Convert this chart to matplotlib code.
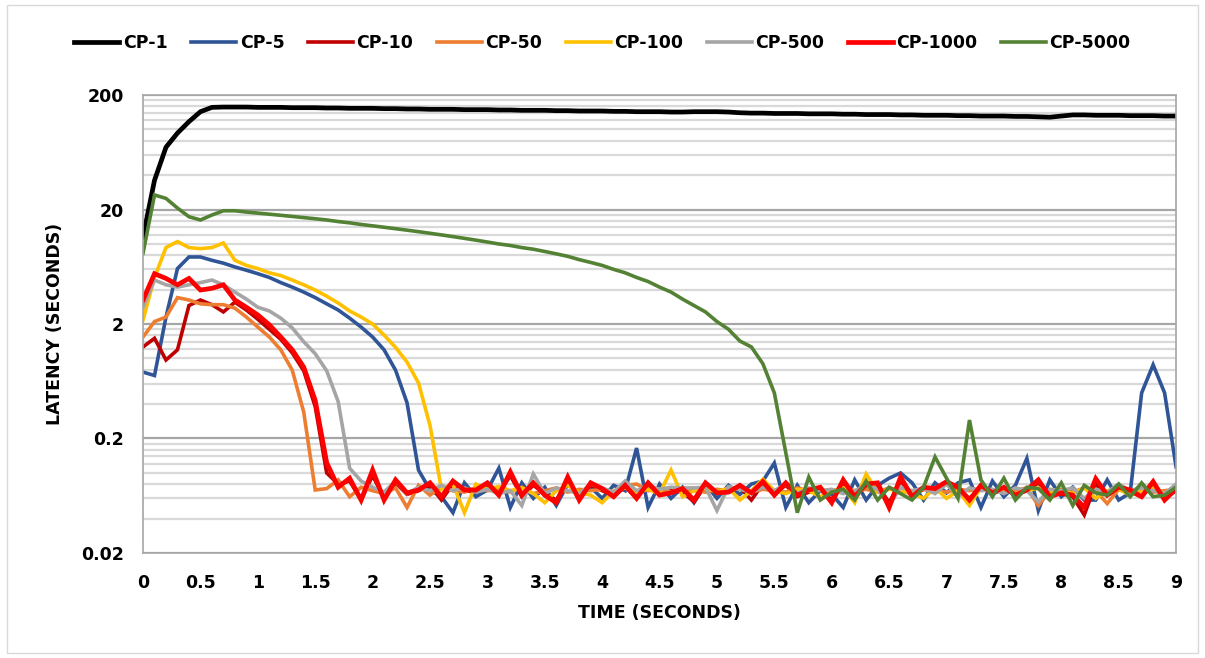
import matplotlib
matplotlib.use("Agg")
import matplotlib.pyplot as plt
from matplotlib.patches import Rectangle
from matplotlib.ticker import FixedLocator, NullFormatter
import numpy as np

plt.rcParams['font.family'] = ['Liberation Sans Narrow', 'DejaVu Sans']
plt.rcParams['font.weight'] = 'bold'

time = [round(i * 0.1, 1) for i in range(91)]

cp1 = [11.5, 36, 70, 93, 117, 143, 156, 157, 157, 157,
       156, 156, 156, 155, 155, 155, 154, 154, 153, 153,
       153, 152, 152, 151, 151, 150, 150, 150, 149, 149,
       149, 148, 148, 147, 147, 147, 146, 146, 145, 145,
       145, 144, 144, 143, 143, 143, 142, 142, 143, 143,
       143, 142, 140, 139, 139, 138, 138, 138, 137, 137,
       137, 136, 136, 135, 135, 135, 134, 134, 133, 133,
       133, 132, 132, 131, 131, 131, 130, 130, 129, 128,
       131, 134, 134, 133, 133, 133, 132, 132, 132, 131,
       131]

cp5 = [0.76, 0.71, 2.3, 6.1, 7.7, 7.7, 7.2, 6.8, 6.3, 5.9,
       5.5, 5.1, 4.6, 4.2, 3.8, 3.4, 3.0, 2.65, 2.25, 1.88,
       1.54, 1.19, 0.79, 0.41, 0.106, 0.071, 0.062, 0.045, 0.082, 0.062,
       0.071, 0.11, 0.05, 0.082, 0.06, 0.075, 0.052, 0.08, 0.064, 0.075,
       0.06, 0.078, 0.07, 0.165, 0.05, 0.08, 0.06, 0.075, 0.055, 0.08,
       0.06, 0.078, 0.065, 0.08, 0.085, 0.122, 0.05, 0.078, 0.055, 0.07,
       0.065, 0.05, 0.087, 0.058, 0.078, 0.09, 0.1, 0.082, 0.058, 0.082,
       0.067, 0.082, 0.087, 0.05, 0.085, 0.062, 0.078, 0.134, 0.047, 0.087,
       0.062, 0.075, 0.058, 0.058, 0.087, 0.058, 0.067, 0.5, 0.88, 0.5,
       0.113]

cp10 = [1.26, 1.5, 0.97, 1.19, 2.9, 3.24, 2.95, 2.55, 3.1, 2.65,
        2.2, 1.8, 1.47, 1.12, 0.78, 0.38, 0.1, 0.08, 0.085, 0.058,
        0.095, 0.06, 0.082, 0.065, 0.07, 0.078, 0.058, 0.08, 0.07, 0.068,
        0.08, 0.066, 0.095, 0.062, 0.078, 0.066, 0.058, 0.085, 0.06, 0.078,
        0.07, 0.064, 0.075, 0.062, 0.078, 0.066, 0.07, 0.068, 0.056, 0.078,
        0.068, 0.07, 0.075, 0.058, 0.08, 0.066, 0.078, 0.062, 0.068, 0.072,
        0.058, 0.082, 0.064, 0.076, 0.078, 0.055, 0.085, 0.064, 0.072, 0.07,
        0.08, 0.072, 0.06, 0.075, 0.066, 0.072, 0.066, 0.07, 0.082, 0.064,
        0.066, 0.062, 0.043, 0.08, 0.064, 0.072, 0.068, 0.062, 0.08, 0.06,
        0.07]

cp50 = [1.54, 2.1, 2.3, 3.4, 3.24, 3.0, 2.95, 2.95, 2.75, 2.3,
        1.88, 1.54, 1.19, 0.79, 0.34, 0.071, 0.073, 0.087, 0.062, 0.075,
        0.07, 0.066, 0.074, 0.05, 0.078, 0.064, 0.076, 0.07, 0.068, 0.074,
        0.07, 0.072, 0.068, 0.075, 0.066, 0.07, 0.074, 0.068, 0.072, 0.07,
        0.072, 0.068, 0.078, 0.08, 0.07, 0.072, 0.068, 0.074, 0.07, 0.068,
        0.072, 0.07, 0.074, 0.068, 0.072, 0.07, 0.068, 0.074, 0.07, 0.072,
        0.068, 0.074, 0.07, 0.072, 0.068, 0.074, 0.07, 0.066, 0.072, 0.07,
        0.068, 0.072, 0.07, 0.074, 0.068, 0.072, 0.07, 0.074, 0.052, 0.07,
        0.072, 0.068, 0.074, 0.07, 0.054, 0.072, 0.07, 0.074, 0.068, 0.07,
        0.072]

cp100 = [2.17, 5.1, 9.3, 10.5, 9.3, 9.1, 9.3, 10.2, 7.2, 6.5,
         6.1, 5.6, 5.3, 4.84, 4.4, 3.96, 3.5, 3.05, 2.6, 2.3,
         2.0, 1.6, 1.25, 0.93, 0.61, 0.26, 0.072, 0.08, 0.045, 0.08,
         0.072, 0.076, 0.07, 0.074, 0.066, 0.055, 0.07, 0.078, 0.068, 0.064,
         0.055, 0.07, 0.074, 0.068, 0.072, 0.066, 0.106, 0.062, 0.07, 0.074,
         0.068, 0.074, 0.058, 0.07, 0.088, 0.07, 0.066, 0.072, 0.07, 0.062,
         0.07, 0.074, 0.055, 0.098, 0.068, 0.072, 0.07, 0.066, 0.06, 0.074,
         0.06, 0.07, 0.052, 0.075, 0.07, 0.072, 0.066, 0.07, 0.074, 0.068,
         0.07, 0.066, 0.074, 0.06, 0.07, 0.072, 0.064, 0.07, 0.074, 0.066,
         0.07]

cp500 = [2.8, 4.84, 4.4, 4.2, 4.4, 4.6, 4.84, 4.4, 3.8, 3.3,
         2.8, 2.6, 2.25, 1.85, 1.4, 1.1, 0.78, 0.42, 0.11, 0.085,
         0.075, 0.068, 0.085, 0.066, 0.075, 0.07, 0.078, 0.07, 0.074, 0.068,
         0.072, 0.066, 0.07, 0.052, 0.098, 0.066, 0.074, 0.07, 0.066, 0.08,
         0.074, 0.068, 0.085, 0.07, 0.078, 0.072, 0.075, 0.074, 0.074, 0.075,
         0.047, 0.076, 0.072, 0.068, 0.075, 0.07, 0.08, 0.066, 0.074, 0.07,
         0.072, 0.066, 0.07, 0.078, 0.072, 0.052, 0.075, 0.07, 0.074, 0.066,
         0.08, 0.062, 0.074, 0.07, 0.072, 0.066, 0.074, 0.07, 0.056, 0.072,
         0.07, 0.074, 0.06, 0.072, 0.068, 0.08, 0.07, 0.074, 0.07, 0.066,
         0.08]

cp1000 = [3.24, 5.5, 5.0, 4.4, 5.0, 3.96, 4.1, 4.4, 3.24, 2.8,
          2.4, 1.97, 1.54, 1.19, 0.84, 0.43, 0.123, 0.075, 0.09, 0.058,
          0.106, 0.058, 0.087, 0.067, 0.071, 0.082, 0.062, 0.085, 0.071, 0.071,
          0.082, 0.064, 0.102, 0.064, 0.082, 0.064, 0.055, 0.092, 0.058, 0.082,
          0.073, 0.062, 0.078, 0.06, 0.082, 0.064, 0.067, 0.073, 0.058, 0.082,
          0.067, 0.068, 0.078, 0.067, 0.084, 0.064, 0.082, 0.064, 0.071, 0.075,
          0.055, 0.087, 0.062, 0.08, 0.082, 0.05, 0.092, 0.062, 0.075, 0.073,
          0.084, 0.075, 0.058, 0.078, 0.067, 0.075, 0.064, 0.071, 0.087, 0.062,
          0.067, 0.064, 0.05, 0.089, 0.064, 0.075, 0.071, 0.062, 0.084, 0.058,
          0.073]

cp5000 = [8.3, 26.8, 25, 20.6, 17.3, 16.2, 17.9, 19.5, 19.5, 19.0,
          18.6, 18.2, 17.8, 17.4, 17.0, 16.6, 16.2, 15.7, 15.3, 14.8,
          14.4, 14.0, 13.6, 13.2, 12.8, 12.4, 12.0, 11.6, 11.2, 10.8,
          10.4, 10.0, 9.7, 9.3, 9.0, 8.6, 8.2, 7.8, 7.3, 6.9,
          6.5, 6.0, 5.6, 5.1, 4.7, 4.2, 3.8, 3.3, 2.9, 2.55,
          2.1, 1.8, 1.42, 1.26, 0.9, 0.5, 0.15, 0.045, 0.092, 0.058,
          0.068, 0.072, 0.058, 0.085, 0.058, 0.075, 0.066, 0.058, 0.075, 0.138,
          0.09, 0.06, 0.29, 0.087, 0.062, 0.09, 0.058, 0.075, 0.073, 0.058,
          0.082, 0.052, 0.078, 0.067, 0.064, 0.08, 0.062, 0.082, 0.062, 0.064,
          0.075]

names = ['CP-1', 'CP-5', 'CP-10', 'CP-50', 'CP-100', 'CP-500', 'CP-1000', 'CP-5000']
series = [cp1, cp5, cp10, cp50, cp100, cp500, cp1000, cp5000]
colors = ['#000000', '#2F5597', '#C00000', '#ED7D31', '#FFC000', '#A5A5A5', '#FF0000', '#548235']
widths = [3.4, 2.6, 2.6, 2.6, 2.6, 2.6, 3.4, 2.6]

yticks = [0.02, 0.2, 2, 20, 200]
xticks = [i * 0.5 for i in range(19)]

fig = plt.figure(figsize=(12.05, 6.58), dpi=100)
ax = fig.add_axes([0.1187, 0.1596, 0.8573, 0.696])

for name, vals, c, lw in zip(names, series, colors, widths):
    ax.plot(time, vals, color=c, lw=lw, label=name, solid_joinstyle='miter')

ax.set_yscale('log')
ax.set_ylim(0.02, 200)
ax.set_xlim(0, 9)

# excel style log grid: minors at 2..9 times each major
minors = [m * t for t in yticks[:-1] for m in range(2, 10)]
ax.yaxis.set_major_locator(FixedLocator(yticks))
ax.yaxis.set_minor_locator(FixedLocator(minors))
ax.yaxis.set_minor_formatter(NullFormatter())
ax.set_yticks(yticks)
ax.set_yticklabels([f'{v:g}' for v in yticks])
ax.set_xticks(xticks)
ax.set_xticklabels([f'{v:g}' for v in xticks])

ax.grid(True, which='major', axis='y', color='#A6A6A6', lw=1.6, zorder=0)
ax.grid(True, which='minor', axis='y', color='#D9D9D9', lw=1.6, zorder=0)
ax.set_axisbelow(True)
for s in ax.spines.values():
    s.set_color('#A6A6A6')
    s.set_linewidth(1.2)
ax.tick_params(axis='both', which='both', length=0, labelsize=12.5)
ax.tick_params(axis='x', pad=15)
ax.tick_params(axis='y', pad=14)

ax.set_xlabel('TIME (SECONDS)', fontsize=12.5, fontweight='bold', labelpad=9)
ax.set_ylabel('LATENCY (SECONDS)', fontsize=12.5, fontweight='bold', labelpad=12)

fig.legend(loc='center', bbox_to_anchor=(0.5, 0.935), ncol=8, frameon=False,
           fontsize=12.5, handlelength=2.6, handletextpad=0.2, columnspacing=1.35)

fig.patches.append(Rectangle((0.006, 0.008), 0.988, 0.984, transform=fig.transFigure,
                             fill=False, edgecolor='#D9D9D9', lw=1))

fig.savefig('out.png', dpi=100)
